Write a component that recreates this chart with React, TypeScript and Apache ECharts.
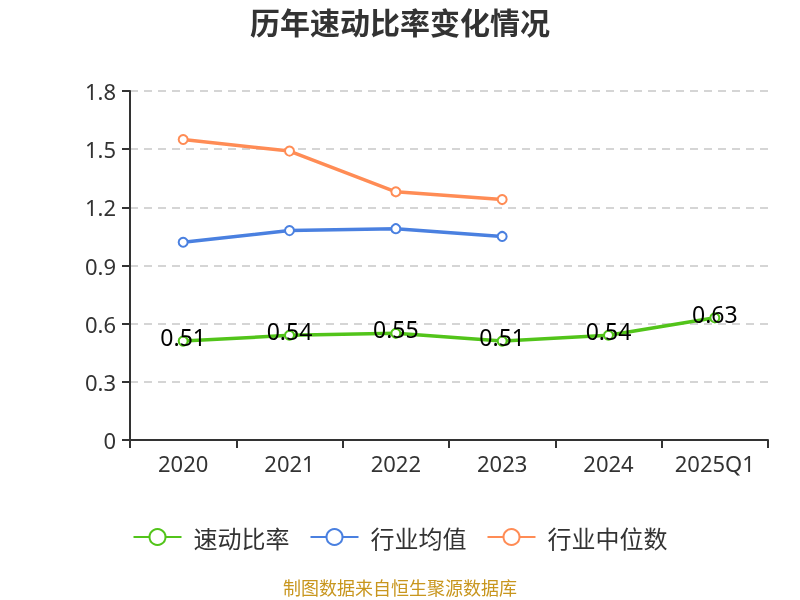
import React, { useEffect, useRef } from "react";
import * as echarts from "echarts";

const categories = ["2020", "2021", "2022", "2023", "2024", "2025Q1"];
const quickRatio = [0.51, 0.54, 0.55, 0.51, 0.54, 0.63];
const industryMean = [1.02, 1.08, 1.09, 1.05, null, null];
const industryMedian = [1.55, 1.49, 1.28, 1.24, null, null];
const seriesNames = ["速动比率", "行业均值", "行业中位数"];
const colors = ["#52c41a", "#4a80e0", "#ff8c55"];

export default function App() {
  const ref = useRef<HTMLDivElement>(null);
  useEffect(() => {
    const chart = echarts.init(ref.current!, null, { renderer: "svg" });
    const mk = (name: string, data: any[], color: string, label: boolean) => ({
      name,
      type: "line",
      data,
      symbol: "emptyCircle",
      symbolSize: 9,
      lineStyle: { width: 3.5, color },
      itemStyle: { color, borderWidth: 1.8 },
      label: label
        ? { show: true, position: "inside", offset: [0, -4], color: "#000", fontSize: 23, fontFamily: "Noto Sans" }
        : { show: false },
    });
    chart.setOption({
      animation: false,
      title: {
        text: "历年速动比率变化情况",
        left: "center",
        top: 1,
        textStyle: { fontSize: 30, fontWeight: "bold", color: "#333", fontFamily: "Noto Sans CJK SC" },
      },
      grid: { left: 130, right: 32, top: 91, bottom: 160 },
      legend: {
        bottom: 46,
        left: "center",
        itemWidth: 48,
        itemHeight: 20,
        itemGap: 20,
        textStyle: { fontSize: 24, color: "#333", fontFamily: "Noto Sans CJK SC", padding: [0, 0, 0, 7] },
        data: seriesNames,
      },
      xAxis: {
        type: "category",
        data: categories,
        boundaryGap: true,
        axisLine: { lineStyle: { color: "#333", width: 2 } },
        axisTick: { show: true, length: 8, interval: 0, lineStyle: { color: "#333", width: 2 } },
        axisLabel: { fontSize: 22, color: "#333", margin: 12, interval: 0, fontFamily: "Noto Sans" },
      },
      yAxis: {
        type: "value",
        min: 0,
        max: 1.8,
        interval: 0.3,
        axisLine: { show: true, lineStyle: { color: "#333", width: 2 } },
        axisTick: { show: true, length: 8, lineStyle: { color: "#333", width: 2 } },
        axisLabel: { fontSize: 22, color: "#333", margin: 14, fontFamily: "Noto Sans" },
        splitLine: { lineStyle: { type: [8, 6], color: "#c8c8c8", width: 1.5 } },
      },
      series: [
        mk(seriesNames[0], quickRatio, colors[0], true),
        mk(seriesNames[1], industryMean, colors[1], false),
        mk(seriesNames[2], industryMedian, colors[2], false),
      ],
      graphic: [
        {
          type: "text",
          left: "center",
          top: 578,
          style: { text: "制图数据来自恒生聚源数据库", fill: "#c8961e", fontSize: 18, fontFamily: "Noto Sans CJK SC" },
        },
      ],
    });
    return () => chart.dispose();
  }, []);
  return <div ref={ref} style={{ position: "fixed", left: 0, top: 0, width: 800, height: 600 }} />;
}
